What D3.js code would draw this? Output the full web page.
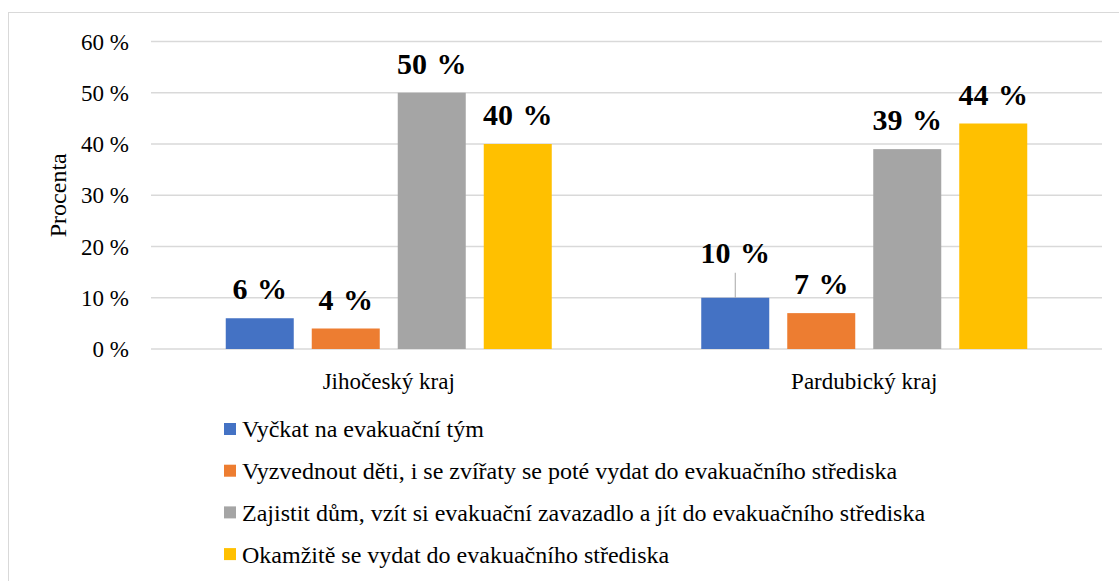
<html>
<head>
<meta charset="utf-8">
<script src="https://d3js.org/d3.v7.min.js"></script>
</head>
<body style="margin:0; background:#fff">
<svg id="svg" width="1119" height="581"></svg>
<script>
// DATA
const regions = ["Jihočeský kraj", "Pardubický kraj"]
const answers = [
  "Vyčkat na evakuační tým",
  "Vyzvednout děti, i se zvířaty se poté vydat do evakuačního střediska",
  "Zajistit dům, vzít si evakuační zavazadlo a jít do evakuačního střediska",
  "Okamžitě se vydat do evakuačního střediska"
]
const jihocesky = [6, 4, 50, 40]
const pardubicky = [10, 7, 39, 44]
const yTicks = [0, 10, 20, 30, 40, 50, 60]
const colors = ["#4472C4", "#ED7D31", "#A5A5A5", "#FFC000"]

const values = [jihocesky, pardubicky]
const FONT = '"Liberation Serif", "Times New Roman", serif'

// SCALES
const svg = d3.select("#svg")
const x0 = d3.scaleBand().domain(regions).range([151, 1102]).padding(0)
const groupW = 326
const x1 = d3.scaleBand().domain(answers)
  .range([(x0.bandwidth() - groupW) / 2, (x0.bandwidth() + groupW) / 2])
  .paddingInner(18 / 86).paddingOuter(0)
const y = d3.scaleLinear().domain([0, 60]).range([349, 41.5])

// outer border
svg.append("rect")
  .attr("x", 8.5).attr("y", 12.5)
  .attr("width", 1300).attr("height", 800)
  .attr("fill", "none").attr("stroke", "#d9d9d9").attr("stroke-width", 1)

// gridlines
svg.append("g").selectAll("line")
  .data(yTicks)
  .join("line")
  .attr("x1", 151).attr("x2", 1102)
  .attr("y1", d => y(d)).attr("y2", d => y(d))
  .attr("stroke", "#d9d9d9").attr("stroke-width", 1.5)

// y tick labels
svg.append("g").selectAll("text")
  .data(yTicks)
  .join("text")
  .attr("x", 129).attr("y", d => y(d))
  .attr("dy", "0.35em")
  .attr("text-anchor", "end")
  .style("font-family", FONT)
  .style("font-size", "23px")
  .text(d => d + " %")

// y title
svg.append("text")
  .attr("transform", `translate(66,${(y(0) + y(60)) / 2}) rotate(-90)`)
  .attr("text-anchor", "middle")
  .style("font-family", FONT)
  .style("font-size", "24px")
  .text("Procenta")

// bars
const groups = svg.append("g").selectAll("g")
  .data(regions)
  .join("g")
  .attr("transform", d => `translate(${x0(d)},0)`)

groups.selectAll("rect")
  .data((d, i) => values[i].map((v, j) => ({ key: answers[j], value: v, c: colors[j] })))
  .join("rect")
  .attr("x", d => x1(d.key))
  .attr("y", d => y(d.value))
  .attr("width", x1.bandwidth())
  .attr("height", d => y(0) - y(d.value))
  .attr("fill", d => d.c)

// data labels
groups.each(function (r, gi) {
  const g = d3.select(this)
  values[gi].forEach((v, j) => {
    const cx = x1(answers[j]) + x1.bandwidth() / 2
    // the "10 %" label in Pardubický kraj is lifted and has a leader line
    const lifted = gi === 1 && j === 0
    const base = y(v) - 19 - (lifted ? 16 : 0)
    if (lifted) {
      g.append("line")
        .attr("x1", cx).attr("x2", cx)
        .attr("y1", base + 10).attr("y2", y(v))
        .attr("stroke", "#a6a6a6").attr("stroke-width", 1)
    }
    g.append("text")
      .attr("x", cx).attr("y", base)
      .attr("text-anchor", "middle")
      .style("font-family", FONT)
      .style("font-size", "30px")
      .style("font-weight", "bold")
      .style("word-spacing", "2px")
      .text(v + " %")
  })
})

// category labels
svg.append("g").selectAll("text")
  .data(regions)
  .join("text")
  .attr("x", d => x0(d) + x0.bandwidth() / 2)
  .attr("y", 389)
  .attr("text-anchor", "middle")
  .style("font-family", FONT)
  .style("font-size", "23px")
  .text(d => d)

// legend
const legend = svg.append("g").selectAll("g")
  .data(answers)
  .join("g")
  .attr("transform", (d, i) => `translate(224,${429 + i * 41.7})`)

legend.append("rect")
  .attr("x", 0).attr("y", -6)
  .attr("width", 12).attr("height", 12)
  .attr("fill", (d, i) => colors[i])

legend.append("text")
  .attr("x", 18).attr("dy", "0.35em")
  .style("font-family", FONT)
  .style("font-size", "24px")
  .text(d => d)
</script>
</body>
</html>
